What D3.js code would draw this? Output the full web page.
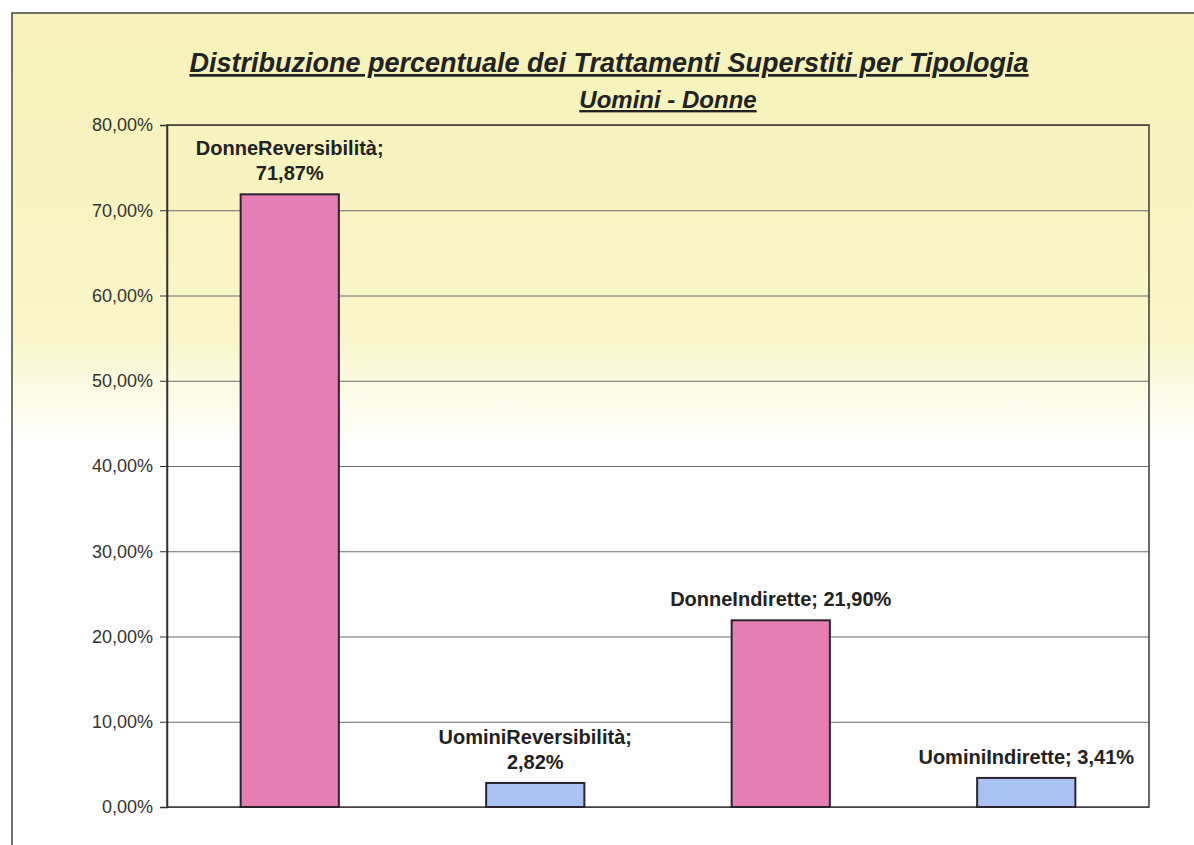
<!DOCTYPE html>
<html>
<head>
<meta charset="utf-8">
<script src="https://cdn.jsdelivr.net/npm/d3@7"></script>
<style>
  body { margin: 0; background: #fff; }
  svg { display: block; font-family: "Liberation Sans", Arial, sans-serif; }
</style>
</head>
<body>
<div id="chart"></div>
<script>
// data
const categories = ["DonneReversibilità", "UominiReversibilità", "DonneIndirette", "UominiIndirette"];
const groups = ["Donne", "Uomini", "Donne", "Uomini"];
const values = [71.87, 2.82, 21.90, 3.41];
const yTicks = [0, 10, 20, 30, 40, 50, 60, 70, 80];
const titleLines = ["Distribuzione percentuale dei Trattamenti Superstiti per Tipologia", "Uomini - Donne"];

const data = categories.map((c, i) => ({ cat: c, group: groups[i], value: values[i] }));

var W = 1194, H = 845;
var plot = { left: 167, right: 1149, top: 125, bottom: 807 };

var it = d3.formatLocale({ decimal: ",", thousands: ".", grouping: [3], currency: ["€", ""] });
var fmt = it.format(".2f");

var svg = d3.select("#chart").append("svg")
  .attr("width", W)
  .attr("height", H);

var grad = svg.append("defs").append("linearGradient")
  .attr("id", "bg")
  .attr("x1", 0).attr("y1", 0).attr("x2", 0).attr("y2", 1);
grad.append("stop").attr("offset", "0%").attr("stop-color", "#f6f2b9");
grad.append("stop").attr("offset", "37%").attr("stop-color", "#f8f5c8");
grad.append("stop").attr("offset", "50%").attr("stop-color", "#ffffff");
grad.append("stop").attr("offset", "100%").attr("stop-color", "#ffffff");

// chart area (frame runs off the right and bottom of the page)
svg.append("rect")
  .attr("x", 12).attr("y", 13)
  .attr("width", W + 20).attr("height", H + 20)
  .attr("fill", "url(#bg)")
  .attr("stroke", "#444")
  .attr("stroke-width", 1.5);

var x = d3.scaleBand()
  .domain(categories)
  .range([plot.left, plot.right])
  .paddingInner(0.6)
  .paddingOuter(0.3);

var y = d3.scaleLinear()
  .domain([0, 80])
  .range([plot.bottom, plot.top]);

var color = d3.scaleOrdinal()
  .domain(["Donne", "Uomini"])
  .range(["#e47eb3", "#a8c3f3"]);

// gridlines
svg.append("g")
  .attr("class", "grid")
  .attr("transform", "translate(" + plot.left + ",0)")
  .call(d3.axisLeft(y).tickValues(yTicks).tickSize(-(plot.right - plot.left)).tickFormat(""))
  .call(g => g.select(".domain").remove())
  .call(g => g.selectAll("line").attr("stroke", "#6a6a6a").attr("stroke-width", 1));

// plot border
svg.append("rect")
  .attr("x", plot.left).attr("y", plot.top)
  .attr("width", plot.right - plot.left)
  .attr("height", plot.bottom - plot.top)
  .attr("fill", "none")
  .attr("stroke", "#3a3a3a")
  .attr("stroke-width", 1.5);

// y axis
var yAxis = svg.append("g")
  .attr("transform", "translate(" + plot.left + ",0)")
  .call(d3.axisLeft(y).tickValues(yTicks).tickSize(7).tickPadding(7).tickFormat(d => fmt(d) + "%"));
yAxis.select(".domain").attr("stroke", "#333").attr("stroke-width", 1.5);
yAxis.selectAll(".tick line").attr("stroke", "#333");
yAxis.selectAll("text")
  .attr("fill", "#333")
  .style("font-size", "18px")
  .style("font-family", "'Liberation Sans', Arial, sans-serif");

// bars
svg.selectAll(".bar")
  .data(data)
  .enter().append("rect")
  .attr("class", "bar")
  .attr("x", d => x(d.cat))
  .attr("width", x.bandwidth())
  .attr("y", d => y(d.value))
  .attr("height", d => y(0) - y(d.value))
  .attr("fill", d => color(d.group))
  .attr("stroke", "#2b2430")
  .attr("stroke-width", 2);

// data labels, wrapped when wider than the band step
var labels = svg.selectAll(".lbl")
  .data(data)
  .enter().append("text")
  .attr("class", "lbl")
  .attr("text-anchor", "middle")
  .attr("fill", "#222")
  .style("font-size", "20px")
  .style("font-weight", "bold");

labels.each(function(d) {
  var t = d3.select(this);
  var full = d.cat + "; " + fmt(d.value) + "%";
  t.text(full);
  var cx = x(d.cat) + x.bandwidth() / 2;
  var base = y(d.value) - 14;
  if (this.getComputedTextLength() > x.step()) {
    t.text(null);
    t.append("tspan").attr("x", cx).attr("y", base - 25).text(d.cat + ";");
    t.append("tspan").attr("x", cx).attr("y", base).text(fmt(d.value) + "%");
  } else {
    t.attr("x", cx).attr("y", base);
  }
});

// title
var title = svg.append("g")
  .attr("fill", "#222")
  .style("font-weight", "bold")
  .style("font-style", "italic")
  .style("text-decoration", "underline");

title.append("text")
  .attr("x", 609).attr("y", 72)
  .attr("text-anchor", "middle")
  .style("font-size", "27px")
  .text(titleLines[0]);
title.append("text")
  .attr("x", 668).attr("y", 108)
  .attr("text-anchor", "middle")
  .style("font-size", "24px")
  .text(titleLines[1]);
</script>
</body>
</html>
